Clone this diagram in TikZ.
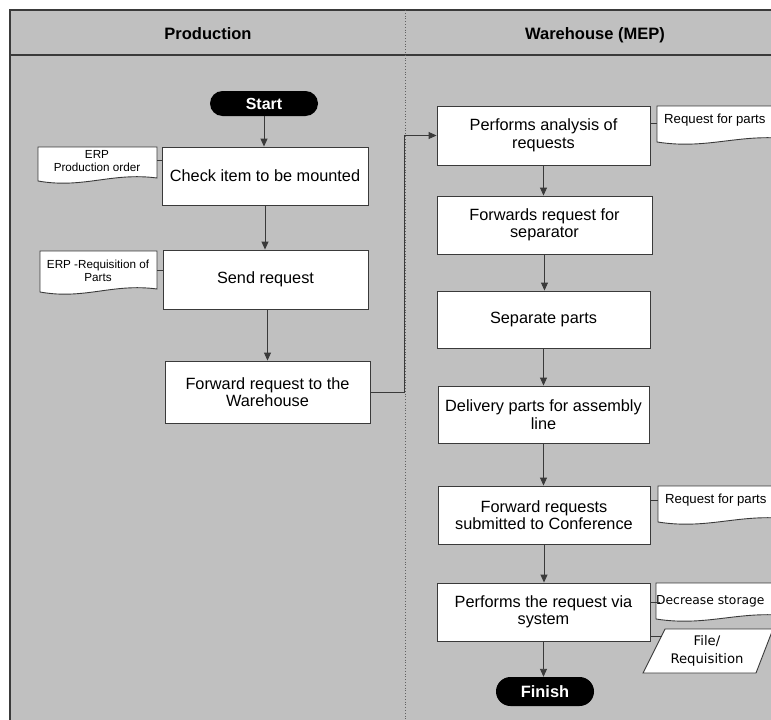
\documentclass[tikz,border=0pt]{standalone}
\usepackage{fontspec}
\setmainfont{Liberation Sans}
\newfontfamily\dejavu{DejaVu Sans}
\usetikzlibrary{arrows.meta,positioning}
\definecolor{lanegray}{HTML}{C0C0C0}
\definecolor{edgegray}{HTML}{3A3A3A}
\tikzset{
  box/.style={draw=edgegray, line width=0.9pt, fill=white, align=center, inner sep=2pt,
    font=\fontsize{16.3}{17.5}\selectfont},
  term/.style={fill=black, text=white, rounded corners=12.5pt, font=\fontsize{16}{18}\selectfont\bfseries, inner sep=0pt},
  arr/.style={draw=edgegray, line width=0.9pt, -{Triangle[length=8pt,width=7pt]}},
  link/.style={draw=edgegray, line width=0.9pt},
  docshape/.style={draw=edgegray, line width=0.9pt, fill=white},
  doctext/.style={align=center, inner sep=0pt, font=\fontsize{11.7}{13}\selectfont},
  header/.style={font=\fontsize{16.5}{18}\selectfont\bfseries, anchor=base},
}
\newcommand{\docpath}[4]{% x1 y1 x2 ybottom
  \path[docshape] (#1,#2) -- (#3,#2) -- (#3,#4-3) .. controls ({#1+0.62*(#3-#1)},#4-9) and ({#1+0.38*(#3-#1)},#4+8) .. (#1,#4) -- cycle;}
\begin{document}
\begin{tikzpicture}[x=1pt,y=-1pt]
\useasboundingbox (0,0) rectangle (771,720);
\clip (0,0) rectangle (771,720);
\fill[white] (0,0) rectangle (771,720);
% pool
\path[fill=lanegray, draw=edgegray, line width=1.3pt] (10,10) rectangle (790,740);
\draw[edgegray, line width=1.3pt] (10,55) -- (790,55);
\draw[edgegray!80, line width=0.8pt, dotted] (405,10) -- (405,740);
\coordinate (lane) at (404,0);
\node[header] (hprod) at (208,39) {Production};
\node[header] (hware) at (595,39) {Warehouse (MEP)};

% Production lane
\node[term, minimum width=108pt, minimum height=25pt] (start) at (264,103.5) {Start};
\node[box, minimum width=206pt, minimum height=58pt] (check) at (265,176) {Check item to be mounted};
\node[box, minimum width=205pt, minimum height=59pt] (send) at (265.5,279.5) {Send request};
\node[box, minimum width=205pt, minimum height=62pt] (fwd) at (267.5,392) {Forward request to the\\Warehouse};

\docpath{38}{147}{157}{181}
\node[doctext] (erp1) at (97,161) {ERP\\Production order};
\docpath{40}{251}{157}{292}
\node[doctext] (erp2) at (98,271) {ERP -Requisition of\\Parts};

% Warehouse lane
\node[box, minimum width=213pt, minimum height=59pt] (perf) at (543.5,135.5) {Performs analysis of\\requests};
\node[box, minimum width=215pt, minimum height=58pt] (fsep) at (544.5,225) {Forwards request for\\separator};
\node[box, minimum width=213pt, minimum height=57pt] (sep) at (543.5,319.5) {Separate parts};
\node[box, minimum width=211pt, minimum height=57pt] (deliv) at (543.5,414.5) {Delivery parts for assembly\\line};
\node[box, minimum width=212pt, minimum height=58pt] (fconf) at (544,515) {Forward requests\\submitted to Conference};
\node[box, minimum width=213pt, minimum height=58pt] (psys) at (543.5,612) {Performs the request via\\system};
\node[term, minimum width=98pt, minimum height=29pt, rounded corners=14.5pt, font=\fontsize{16.4}{18}\selectfont\bfseries] (finish) at (545,691.5) {Finish};

\docpath{657}{106}{790}{142}
\node[doctext, anchor=west, font=\fontsize{13.2}{15}\selectfont] (req1) at (664,120) {Request for parts};
\docpath{658}{486}{790}{522}
\node[doctext, anchor=west, font=\fontsize{13.2}{15}\selectfont] (req2) at (665,500) {Request for parts};
\docpath{656}{583}{790}{619}
\node[doctext, anchor=west, font=\dejavu\fontsize{12.3}{14}\selectfont] (dec) at (656,601) {Decrease storage};

\path[docshape] (665,629) -- (773,629) -- (756,673) -- (643,673) -- cycle;
\node[doctext, font=\dejavu\fontsize{13.2}{18}\selectfont] (file) at (707,651) {File/\\Requisition};

% connectors
\draw[arr] (start.south) -- (start.south |- check.north);
\draw[arr] (check.south) -- (check.south |- send.north);
\draw[arr] (send.south) ++(2,0) coordinate (s2) -- (s2 |- fwd.north);
\draw[arr] (fwd.east) -- (fwd.east -| lane) |- (perf.west);
\draw[arr] (perf.south) -- (perf.south |- fsep.north);
\draw[arr] (fsep.south) -- (fsep.south |- sep.north);
\draw[arr] (sep.south) -- (sep.south |- deliv.north);
\draw[arr] (deliv.south) -- (deliv.south |- fconf.north);
\draw[arr] (fconf.south) -- (fconf.south |- psys.north);
\draw[arr] (psys.south) -- (psys.south |- finish.north);

\coordinate (erp1e) at (157,160);
\draw[link] (erp1e) -- (erp1e -| check.west);
\coordinate (erp2e) at (157,270);
\draw[link] (erp2e) -- (erp2e -| send.west);
\coordinate (req1e) at (657,123);
\draw[link] (req1e -| perf.east) -- (req1e);
\coordinate (req2e) at (658,500);
\draw[link] (req2e -| fconf.east) -- (req2e);
\coordinate (dece) at (660,602);
\draw[link] (dece -| psys.east) -- (dece);
\coordinate (filee) at (662,636);
\draw[link] (filee -| psys.east) -- (filee);
\end{tikzpicture}
\end{document}
